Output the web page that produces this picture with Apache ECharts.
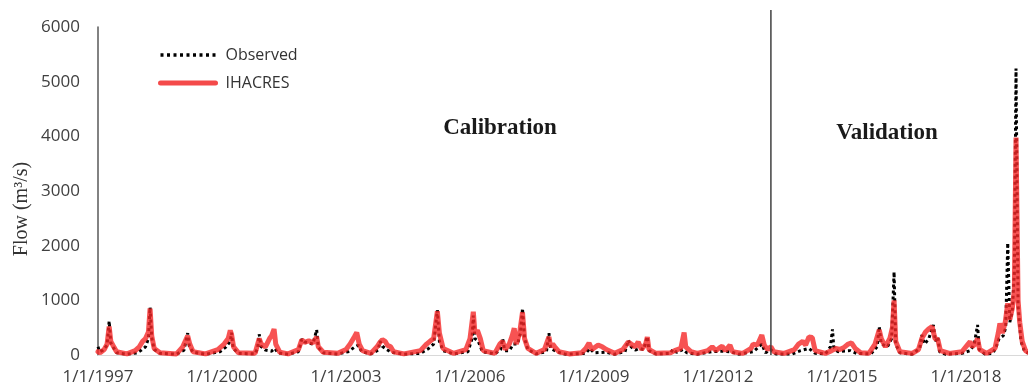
<!DOCTYPE html>
<html>
<head>
<meta charset="utf-8">
<script src="https://cdn.jsdelivr.net/npm/echarts@6/dist/echarts.min.js"></script>
<style>
  html, body { margin: 0; padding: 0; background: #fff; }
  #chart { width: 1028px; height: 391px; }
</style>
</head>
<body>
<div id="chart"></div>
<script>
// time is in years after 1/1/1997, flow in m3/s
const startYear = 1997;
const tickYears = [0, 3, 6, 9, 12, 15, 18, 21];
const splitTime = 16.28; // calibration / validation boundary

const observed = [
  [0.00,150],[0.04,60],[0.12,90],[0.22,180],[0.27,620],[0.31,220],[0.36,150],[0.45,40],[0.7,15],[0.95,40],
  [1.05,90],[1.15,150],[1.22,300],[1.26,870],[1.30,320],[1.36,100],[1.5,30],[1.9,15],[2.08,90],[2.17,400],
  [2.21,160],[2.3,50],[2.6,15],[2.95,60],[3.1,150],[3.2,250],[3.23,410],[3.27,120],[3.4,30],[3.8,20],
  [3.86,120],[3.90,380],[3.94,160],[4.05,90],[4.2,70],[4.28,120],[4.35,40],[4.6,15],[4.85,60],[4.93,290],
  [5.0,240],[5.1,220],[5.2,200],[5.29,460],[5.33,140],[5.45,40],[5.8,20],[6.05,60],[6.2,140],[6.3,180],
  [6.38,60],[6.6,20],[6.78,90],[6.82,255],[6.88,160],[6.98,100],[7.1,50],[7.4,15],[7.8,30],[8.0,120],
  [8.12,200],[8.21,820],[8.26,250],[8.35,80],[8.6,20],[8.95,60],[9.05,300],[9.08,720],[9.12,300],[9.2,250],
  [9.3,60],[9.6,20],[9.74,100],[9.79,300],[9.84,80],[9.95,80],[10.05,200],[10.15,200],[10.22,400],[10.27,850],
  [10.32,300],[10.4,100],[10.6,20],[10.85,60],[10.91,400],[10.95,120],[11.1,60],[11.3,15],[11.8,30],[11.9,120],
  [12.0,40],[12.3,50],[12.5,15],[12.75,60],[12.83,270],[12.9,150],[13.0,90],[13.1,120],[13.2,100],[13.29,335],
  [13.33,80],[13.5,20],[13.85,30],[13.91,105],[14.0,50],[14.15,100],[14.25,40],[14.5,15],[14.85,60],[15.1,70],
  [15.3,60],[15.5,15],[15.85,60],[16.06,200],[16.15,40],[16.28,100],[16.4,20],[16.8,20],[17.0,80],[17.2,120],
  [17.35,30],[17.6,20],[17.72,150],[17.77,470],[17.8,150],[17.9,60],[18.2,80],[18.35,30],[18.7,20],[18.85,150],
  [18.9,520],[18.95,200],[19.1,150],[19.2,300],[19.26,1520],[19.3,200],[19.4,40],[19.7,15],[19.88,120],[19.93,365],
  [20.0,200],[20.1,300],[20.21,550],[20.26,250],[20.32,330],[20.36,60],[20.5,15],[20.9,30],[21.1,80],[21.2,200],
  [21.28,550],[21.32,100],[21.45,20],[21.65,30],[21.73,150],[21.8,300],[21.9,350],[21.96,500],[22.01,2050],[22.06,600],
  [22.12,800],[22.17,1500],[22.21,5240],[22.26,900],[22.33,250],[22.42,60],[22.5,40]
];

const ihacres = [
  [0.00,60],[0.05,40],[0.15,100],[0.22,200],[0.27,520],[0.31,250],[0.36,180],[0.45,60],[0.7,20],[0.9,80],
  [1.0,150],[1.08,250],[1.15,300],[1.22,420],[1.26,850],[1.30,350],[1.36,120],[1.5,40],[1.9,20],[2.05,150],
  [2.17,350],[2.22,200],[2.3,60],[2.6,20],[2.9,100],[3.05,200],[3.15,300],[3.2,450],[3.23,380],[3.28,150],
  [3.4,40],[3.8,30],[3.9,300],[3.95,200],[4.05,150],[4.15,300],[4.2,350],[4.26,475],[4.3,200],[4.4,50],
  [4.6,20],[4.85,100],[4.93,280],[5.0,230],[5.1,260],[5.2,220],[5.29,330],[5.33,150],[5.45,50],[5.8,30],
  [6.0,100],[6.1,200],[6.2,330],[6.26,410],[6.32,200],[6.4,80],[6.6,30],[6.75,150],[6.82,230],[6.88,280],
  [6.95,250],[7.0,180],[7.08,150],[7.15,60],[7.4,20],[7.8,80],[7.95,200],[8.03,250],[8.12,300],[8.21,800],
  [8.26,400],[8.35,120],[8.6,30],[8.9,100],[9.0,300],[9.08,790],[9.12,400],[9.18,450],[9.25,300],[9.32,80],
  [9.6,30],[9.72,200],[9.79,250],[9.85,100],[9.95,200],[10.02,350],[10.07,490],[10.12,200],[10.2,400],[10.27,780],
  [10.32,300],[10.4,120],[10.6,30],[10.8,100],[10.91,330],[10.95,150],[11.0,200],[11.05,150],[11.15,60],[11.4,20],
  [11.7,40],[11.8,120],[11.88,220],[11.95,100],[12.1,180],[12.2,150],[12.3,100],[12.5,30],[12.7,100],[12.83,240],
  [12.9,200],[13.0,150],[13.07,240],[13.15,100],[13.25,200],[13.29,330],[13.33,100],[13.5,30],[13.85,40],[13.95,80],
  [14.1,120],[14.18,410],[14.22,150],[14.35,60],[14.5,30],[14.75,80],[14.86,150],[14.95,80],[15.05,140],[15.1,160],
  [15.18,80],[15.29,180],[15.35,60],[15.6,30],[15.8,120],[15.85,200],[15.95,180],[16.06,365],[16.12,180],[16.2,100],
  [16.28,150],[16.35,60],[16.6,30],[16.85,100],[16.95,200],[17.05,250],[17.12,180],[17.2,330],[17.28,320],[17.35,80],
  [17.6,30],[17.75,80],[17.85,120],[17.95,100],[18.05,140],[18.15,200],[18.23,220],[18.32,120],[18.45,40],[18.65,30],
  [18.8,200],[18.9,460],[18.95,300],[19.05,150],[19.16,310],[19.22,500],[19.26,1000],[19.3,250],[19.4,60],[19.7,30],
  [19.85,100],[19.93,300],[20.02,420],[20.1,480],[20.18,520],[20.25,300],[20.32,280],[20.38,80],[20.6,30],[20.9,60],
  [21.05,200],[21.1,245],[21.15,150],[21.22,200],[21.28,300],[21.33,100],[21.5,30],[21.7,120],[21.78,400],[21.82,580],
  [21.88,400],[21.95,600],[22.01,945],[22.06,650],[22.12,850],[22.17,1200],[22.21,3980],[22.26,1000],[22.3,600],[22.36,250],
  [22.44,80],[22.5,50]
];

const chart = echarts.init(document.getElementById('chart'));

const option = {
  backgroundColor: '#fff',
  animation: false,
  grid: { left: 98, right: 0, top: 27, bottom: 36, containLabel: false },
  legend: {
    data: [
      { name: 'Observed', lineStyle: { color: '#000', width: 3.5, type: [3, 3.5] } },
      { name: 'IHACRES', lineStyle: { color: '#f44a4a', width: 5, cap: 'round' } }
    ],
    orient: 'vertical',
    left: 153,
    top: 42,
    itemWidth: 55,
    itemHeight: 14,
    itemGap: 12,
    itemStyle: { color: 'rgba(0,0,0,0)', borderWidth: 0 },
    textStyle: { fontFamily: 'Open Sans', fontSize: 16, color: '#333', padding: [0, 0, 0, 5] }
  },
  xAxis: {
    type: 'value',
    min: 0,
    max: 22.5,
    interval: 3,
    axisLine: { show: true, lineStyle: { color: '#d9d9d9', width: 1 } },
    axisTick: { show: false },
    splitLine: { show: false },
    axisLabel: {
      showMaxLabel: false,
      margin: 14,
      fontFamily: 'Open Sans',
      fontSize: 17,
      color: '#404040',
      formatter: (v) => tickYears.includes(v) ? '1/1/' + (startYear + v) : ''
    }
  },
  yAxis: {
    type: 'value',
    min: 0,
    max: 6000,
    interval: 1000,
    axisLine: { show: true, lineStyle: { color: '#595959', width: 1.5 } },
    axisTick: { show: false },
    splitLine: { show: false },
    axisLabel: {
      margin: 18, fontFamily: 'Open Sans', fontSize: 17, color: '#404040',
      formatter: (v) => String(v)
    }
  },
  graphic: [
    {
      type: 'text', x: 22, y: 209, rotation: Math.PI / 2,
      style: { text: 'Flow (m³/s)', font: '20px "Liberation Serif"', fill: '#333', align: 'center', verticalAlign: 'middle' }
    },
    {
      type: 'text', x: 500, y: 128,
      style: { text: 'Calibration', font: 'bold 23px "Liberation Serif"', fill: '#1a1a1a', align: 'center', verticalAlign: 'middle' }
    },
    {
      type: 'text', x: 887, y: 133,
      style: { text: 'Validation', font: 'bold 23px "Liberation Serif"', fill: '#1a1a1a', align: 'center', verticalAlign: 'middle' }
    }
  ],
  series: [
    {
      name: 'Observed',
      type: 'line',
      data: observed,
      symbol: 'none',
      lineStyle: { color: '#000', width: 3, type: [3, 3] },
      itemStyle: { color: '#000' },
      z: 2
    },
    {
      name: 'IHACRES',
      type: 'line',
      data: ihacres,
      symbol: 'none',
      lineStyle: { color: 'rgba(245,40,40,0.8)', width: 5, cap: 'round' },
      itemStyle: { color: '#f34a4a' },
      z: 3
    },
    {
      name: 'split',
      type: 'line',
      data: [[splitTime, 0], [splitTime, 6310]],
      symbol: 'none',
      clip: false,
      silent: true,
      lineStyle: { color: '#404040', width: 1.5 },
      z: 4
    }
  ]
};

chart.setOption(option);
</script>
</body>
</html>
